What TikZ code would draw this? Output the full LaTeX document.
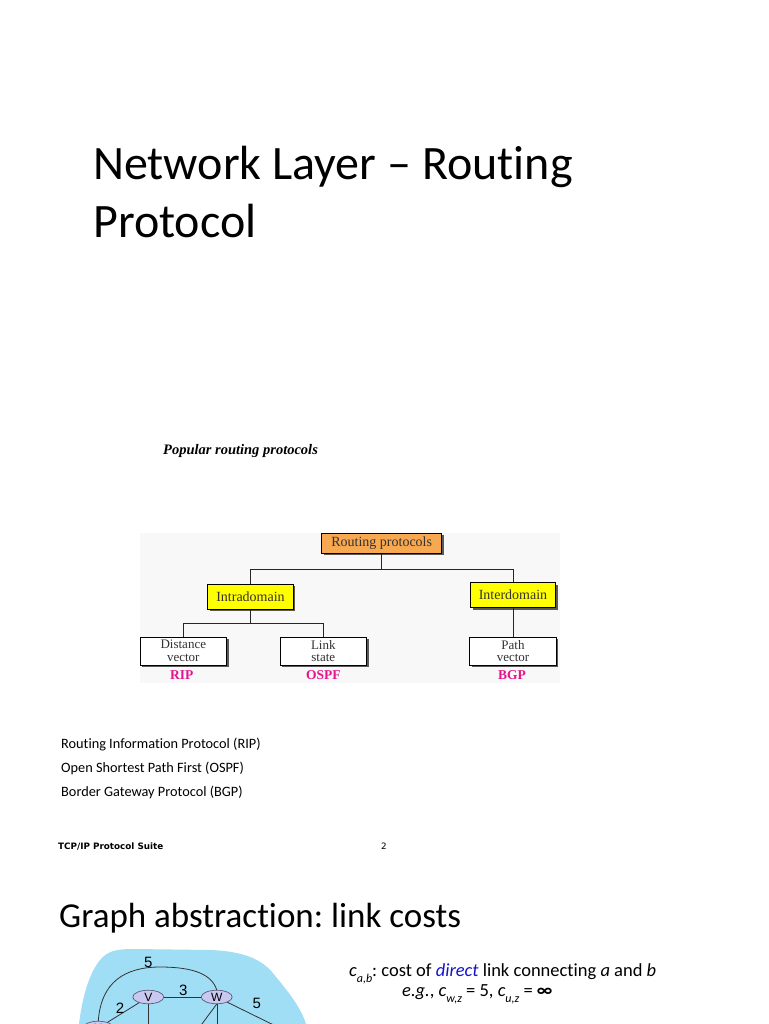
\documentclass[tikz,border=0pt]{standalone}
\usepackage{fontspec}
\setmainfont{Carlito}[Ligatures=NoCommon]
\newfontfamily\timesf{Liberation Serif}
\newfontfamily\footf{DejaVu Sans}
\newfontfamily\arialf{Liberation Sans}
\usetikzlibrary{shadows,shapes.geometric}
\frenchspacing
\definecolor{boxorange}{RGB}{248,168,80}
\definecolor{boxyellow}{RGB}{255,255,0}
\definecolor{protomag}{RGB}{230,20,140}
\definecolor{figbg}{RGB}{248,248,248}
\definecolor{cloudblue}{RGB}{160,222,246}
\definecolor{routerfill}{RGB}{200,200,240}
\definecolor{routerline}{RGB}{90,90,120}
\definecolor{dirblue}{RGB}{20,20,200}
\newcommand{\fsz}[1]{\fontsize{#1}{#1}\selectfont}
\newcommand{\twofsz}{\fontsize{13}{12.6}\selectfont}
\newcommand{\subs}[1]{\raisebox{-6pt}{\fsz{12}\itshape #1}}
\tikzset{
  treebox/.style={draw=black, line width=0.8pt, inner sep=0pt, align=center,
    font=\timesf\fsz{14}, text=black!80,
    drop shadow={shadow xshift=2pt, shadow yshift=-2pt, fill=black!65, opacity=1}},
  twoline/.style={treebox, fill=white, minimum width=86.7pt, minimum height=28pt, font=\timesf\twofsz},
  protolabel/.style={font=\timesf\bfseries\fsz{13.5}, text=protomag, inner sep=0pt},
  treeline/.style={draw=black!85, line width=1pt},
  router/.style={ellipse, draw=routerline, fill=routerfill, line width=0.7pt,
    minimum width=31pt, minimum height=13.5pt, inner sep=0pt, font=\arialf\fsz{12}},
  glink/.style={draw=black!80, line width=0.8pt},
  costlabel/.style={font=\arialf\fsz{15}, inner sep=0pt},
  bodytext/.style={anchor=base west, inner sep=0pt},
}
\begin{document}
\begin{tikzpicture}[x=1pt,y=-1pt]
\useasboundingbox (0,0) rectangle (768,1024);
\clip (0,0) rectangle (768,1024);
\fill[white] (0,0) rectangle (768,1024);

% Title
\node[bodytext, font=\fsz{48}] (title1) at (93,180) {Network Layer -- Routing};
\node[bodytext, font=\fsz{48}] (title2) at (93,237) {Protocol};

% Subtitle
\node[bodytext, font=\timesf\bfseries\itshape\fsz{14.5}] (sub) at (163,454) {Popular routing protocols};

% Figure background
\fill[figbg] (140,533) rectangle (560,683);

% Tree
\node[treebox, fill=boxorange, minimum width=120pt, minimum height=20pt] (root) at (381.7,543.3) {Routing protocols};
\node[treebox, fill=boxyellow, minimum width=85.6pt, minimum height=25pt] (intra) at (250.5,596.8) {Intradomain};
\node[treebox, fill=boxyellow, minimum width=85pt, minimum height=25pt] (inter) at (513,595.2) {Interdomain};
\node[twoline] (dv) at (183.3,651) {Distance\\vector};
\node[twoline] (ls) at (323.3,651) {Link\\state};
\node[twoline] (pv) at (513,651) {Path\\vector};

\coordinate (j1) at (381.7,569.3);
\coordinate (j2) at (250.5,623.3);
\draw[treeline] (root.south) -- (j1);
\draw[treeline] (intra.north) |- (j1) -| (inter.north);
\draw[treeline] (intra.south) -- (j2);
\draw[treeline] (dv.north) |- (j2) -| (ls.north);
\draw[treeline] (inter.south) -- (pv.north);

\node[protolabel] (rip) at (181.7,675.5) {RIP};
\node[protolabel] (ospf) at (323.3,675.5) {OSPF};
\node[protolabel] (bgp) at (512,675.5) {BGP};

% Protocol list
\node[bodytext, font=\fsz{14.3}] (l1) at (61,748) {Routing Information Protocol (RIP)};
\node[bodytext, font=\fsz{14.3}] (l2) at (61,772) {Open Shortest Path First (OSPF)};
\node[bodytext, font=\fsz{14.3}] (l3) at (61,796) {Border Gateway Protocol (BGP)};

% Footer
\node[bodytext, font=\footf\bfseries\fsz{8.8}] (foot) at (58,849) {TCP/IP Protocol Suite};
\node[bodytext, font=\footf\fsz{8.8}] (pg) at (381,849) {2};

% Second slide title
\node[bodytext, font=\fsz{35}] (gtitle) at (59,927) {Graph abstraction: link costs};

% Cloud
\fill[cloudblue] (79,1024) .. controls (82,1000) and (88,975) .. (100,960)
  .. controls (108,951) and (115,949) .. (135,949) -- (210,950)
  .. controls (240,951) and (260,958) .. (272,972)
  .. controls (285,988) and (300,1005) .. (306,1024) -- cycle;

% Routers
\node[router] (v) at (148.3,997) {V};
\node[router] (w) at (216.7,997) {W};
\node[router] (u) at (98.3,1028) {U};
\coordinate (vdown) at (148.3,1040);
\coordinate (wdl) at (190,1040);
\coordinate (wdown) at (217.7,1040);
\coordinate (wright) at (292,1034);

\draw[glink] (u.north) .. controls (101,982) and (125,967) .. (160,967)
  .. controls (195,967) and (212,975) .. (w.north);
\draw[glink] (v) -- (w);
\draw[glink] (v) -- (u);
\draw[glink] (v.south) -- (vdown);
\draw[glink] (w.south) -- (wdl);
\draw[glink] (w.south) ++(1,0) -- (wdown);
\draw[glink] (w) -- (wright);

\node[costlabel] (c5a) at (148.3,962) {5};
\node[costlabel] (c3) at (183.3,990) {3};
\node[costlabel] (c2) at (120,1008) {2};
\node[costlabel] (c5b) at (256.7,1003) {5};

% Cost text
\node[bodytext, font=\fsz{18.5}] (cab) at (349,976.5) {\itshape c\subs{a,b}\upshape: cost of \textcolor{dirblue}{\itshape direct} link connecting \textit{a} and \textit{b}};
\node[bodytext, font=\fsz{18.5}] (eg) at (402,996.5) {\textit{e.g.}, \textit{c}\subs{w,z} = 5, \textit{c}\subs{u,z} = \textbf{∞}};
\end{tikzpicture}
\end{document}
